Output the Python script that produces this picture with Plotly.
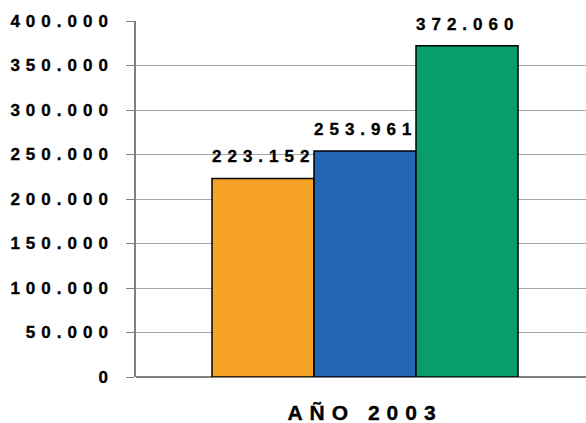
import plotly.graph_objects as go

category = ["AÑO 2003"]
series_names = ["Serie 1", "Serie 2", "Serie 3"]
values = [223152, 253961, 372060]
colors = ["#F7A326", "#2265B0", "#079E6C"]
y_ticks = [0, 50000, 100000, 150000, 200000, 250000, 300000, 350000, 400000]

FONT = "Arial, 'Liberation Sans', sans-serif"
bargap = 0.32
barw = (1 - bargap) / len(values)

fig = go.Figure()
for name, v, c in zip(series_names, values, colors):
    fig.add_trace(go.Bar(
        x=category, y=[v], name=name,
        marker=dict(color=c, line=dict(color="#000000", width=1.5)),
    ))

for i, v in enumerate(values):
    fig.add_annotation(
        x=(i - (len(values) - 1) / 2) * barw, y=v, xref="x", yref="y",
        text=f"{v:,}".replace(",", "."), showarrow=False,
        yanchor="bottom", yshift=10,
        font=dict(family=FONT, size=17, color="#000000", weight="bold"),
    )

fig.update_layout(
    width=586, height=423,
    margin=dict(l=136, r=0, t=21, b=46),
    paper_bgcolor="white", plot_bgcolor="white",
    barmode="group", bargap=bargap, bargroupgap=0,
    showlegend=False,
    separators=",.",
)
fig.update_xaxes(
    type="category", range=[-0.5089, 0.4911],
    showgrid=False, showline=False, zeroline=False, ticks="",
    tickfont=dict(family=FONT, size=21, color="#000000", weight="bold"),
    ticklabelstandoff=21,
)
fig.update_yaxes(
    range=[0, 400000], tickvals=y_ticks, tickformat=",d",
    showgrid=True, gridcolor="#A6A6A6", gridwidth=1,
    showline=True, linecolor="#808080", linewidth=1.5,
    zeroline=True, zerolinecolor="#808080", zerolinewidth=1.5,
    ticks="outside", ticklen=8, tickcolor="#808080", tickwidth=1,
    tickfont=dict(family=FONT, size=17, color="#000000", weight="bold"),
    ticklabelstandoff=9,
)

post = """
document.body.style.margin = '0';
document.body.style.padding = '0';
var gd = document.getElementById('{plot_id}');
function sty(t, ls){
  t.style.letterSpacing = ls;
  t.style.stroke = '#000';
  t.style.strokeWidth = '0.35px';
}
function sp(){
  gd.querySelectorAll('.ytick text').forEach(function(t){sty(t, '6px');});
  gd.querySelectorAll('.annotation-text').forEach(function(t){sty(t, '6px');});
  gd.querySelectorAll('.xtick text').forEach(function(t){sty(t, '7px');});
}
sp();
gd.on('plotly_afterplot', sp);
"""
fig.write_html("out.html", post_script=post, config={"displayModeBar": False})
